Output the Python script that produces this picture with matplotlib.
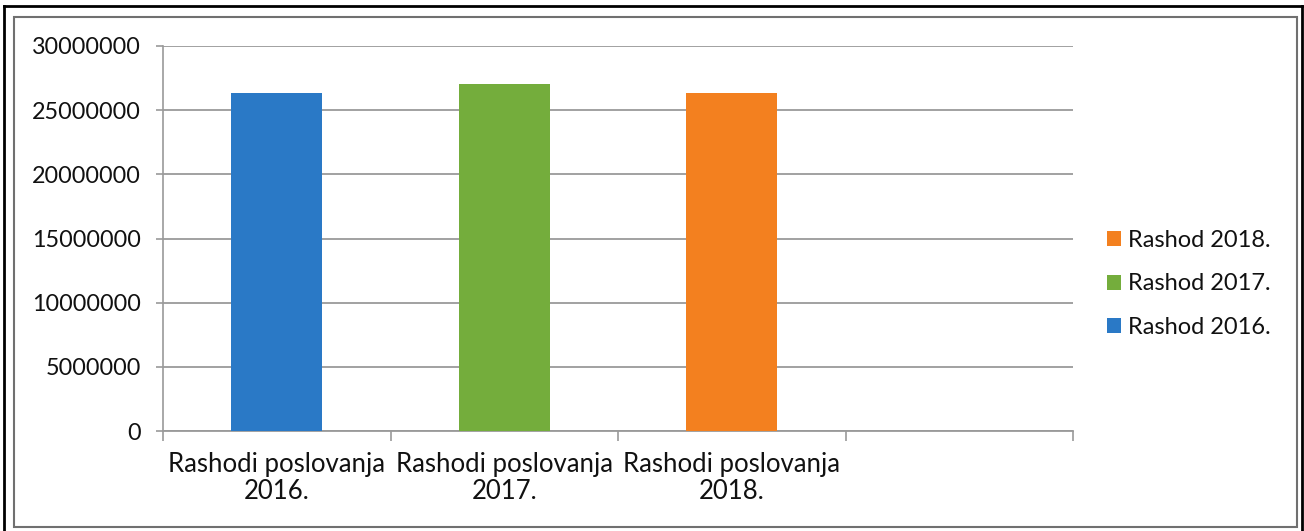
import matplotlib.pyplot as plt
from matplotlib.patches import Rectangle
from matplotlib.lines import Line2D

# chart values
categories = ["Rashodi poslovanja\n2016.", "Rashodi poslovanja\n2017.", "Rashodi poslovanja\n2018."]
series_names = ["Rashod 2016.", "Rashod 2017.", "Rashod 2018."]
values = [26350000, 27050000, 26300000]
colors = ["#2a79c6", "#74ad3c", "#f3801f"]
y_ticks = [0, 5000000, 10000000, 15000000, 20000000, 25000000, 30000000]

plt.rcParams["font.family"] = ["Lato", "DejaVu Sans"]

W, H = 1304, 531
fig = plt.figure(figsize=(W / 100, H / 100), dpi=100)

# plot area in pixels: x 163..1073, y 46..431
ax = fig.add_axes([163 / W, 1 - 431 / H, (1073 - 163) / W, (431 - 46) / H])

bars = []
for i, (v, c, name) in enumerate(zip(values, colors, series_names)):
    b = ax.bar(i, v, width=0.4, color=c, label=name, zorder=3)
    bars.append(b)

ax.set_xlim(-0.5, 3.5)
ax.set_ylim(0, 30000000)
ax.set_yticks(y_ticks)
ax.set_yticklabels([str(t) for t in y_ticks], fontsize=16.8, color="#111111")
ax.yaxis.grid(True, color="#9a9a9a", linewidth=1.3, zorder=0)
ax.tick_params(axis="y", length=5, width=1.2, color="#9a9a9a", pad=11)

ax.set_xticks(range(len(categories)))
ax.set_xticklabels(categories, fontsize=18.5, linespacing=1.12, color="#111111")
ax.tick_params(axis="x", which="major", length=0, pad=15)
ax.set_xticks([-0.5, 0.5, 1.5, 2.5, 3.5], minor=True)
ax.tick_params(axis="x", which="minor", length=7, width=1.2, color="#9a9a9a")

for s in ["top", "right"]:
    ax.spines[s].set_visible(False)
ax.spines["left"].set_color("#9a9a9a")
ax.spines["bottom"].set_color("#9a9a9a")
ax.spines["left"].set_linewidth(1.2)
ax.spines["bottom"].set_linewidth(1.3)

handles = [b[0] for b in bars][::-1]
labels = series_names[::-1]
leg = fig.legend(handles, labels, loc="center left", bbox_to_anchor=(1086 / W, 1 - 284 / H),
                 frameon=False, fontsize=17, handlelength=0.6, handleheight=0.6,
                 handletextpad=0.3, labelspacing=0.95)
for t in leg.get_texts():
    t.set_color("#111111")

# scanned page frames
fig.add_artist(Rectangle((14 / W, 1 - 527 / H), (1297 - 14) / W, (527 - 17) / H,
                         transform=fig.transFigure, fill=False, edgecolor="#707070", linewidth=1.5))
fig.add_artist(Line2D([4 / W, 4 / W], [0, 1 - 6 / H], transform=fig.transFigure, color="black", linewidth=2))
fig.add_artist(Line2D([4 / W, 1302 / W], [1 - 6 / H, 1 - 6 / H], transform=fig.transFigure, color="black", linewidth=2))
fig.add_artist(Line2D([1302 / W, 1302 / W], [0, 1 - 6 / H], transform=fig.transFigure, color="black", linewidth=2))

fig.savefig("out.png", dpi=100)
